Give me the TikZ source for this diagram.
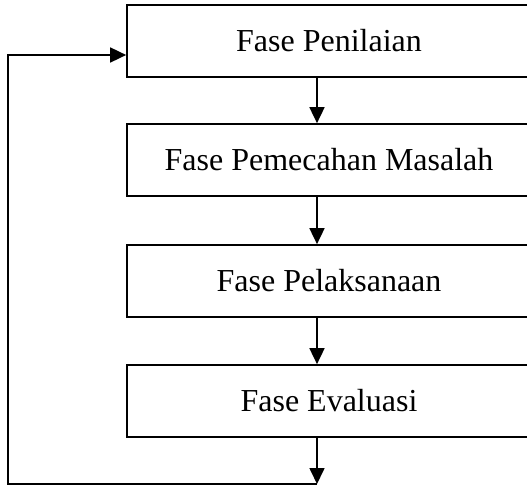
\documentclass[tikz,border=0pt]{standalone}
\usepackage{fontspec}
\setmainfont{Liberation Serif}
\usepackage{tikz}
\usetikzlibrary{arrows.meta, calc}

\begin{document}
\begin{tikzpicture}[x=1pt, y=-1pt,
        phase/.style={rectangle, draw=black, line width=1.7pt, minimum width=404pt,
        minimum height=72pt, inner sep=0pt, font=\fontsize{32}{36}\selectfont},
        arrow/.style={-{Triangle[length=16pt, width=15pt]}, line width=1.7pt, black}
    ]
    \useasboundingbox (0,0) rectangle (527,486);
    \clip (0,0) rectangle (527,486);

    % Phases
    \node[phase] (nilai)  at (329, 41)  {Fase Penilaian};
    \node[phase] (pecah)  at (329, 160) {Fase Pemecahan Masalah};
    \node[phase] (laksana) at (329, 281) {Fase Pelaksanaan};
    \node[phase] (evaluasi) at (329, 401) {Fase Evaluasi};

    % Feedback loop points
    \coordinate (loopend)    at (317, 484);
    \coordinate (loopcorner) at (8, 484);

    % Connections
    \draw[arrow] (nilai.south -| loopend)   -- (pecah.north -| loopend);
    \draw[arrow] (pecah.south -| loopend)   -- (laksana.north -| loopend);
    \draw[arrow] (laksana.south -| loopend) -- (evaluasi.north -| loopend);
    \draw[arrow] (evaluasi.south -| loopend) -- (loopend);

    % Back to the first phase
    \draw[arrow] (loopend) -- (loopcorner) |- ([yshift=-14pt]nilai.west);

\end{tikzpicture}
\end{document}
